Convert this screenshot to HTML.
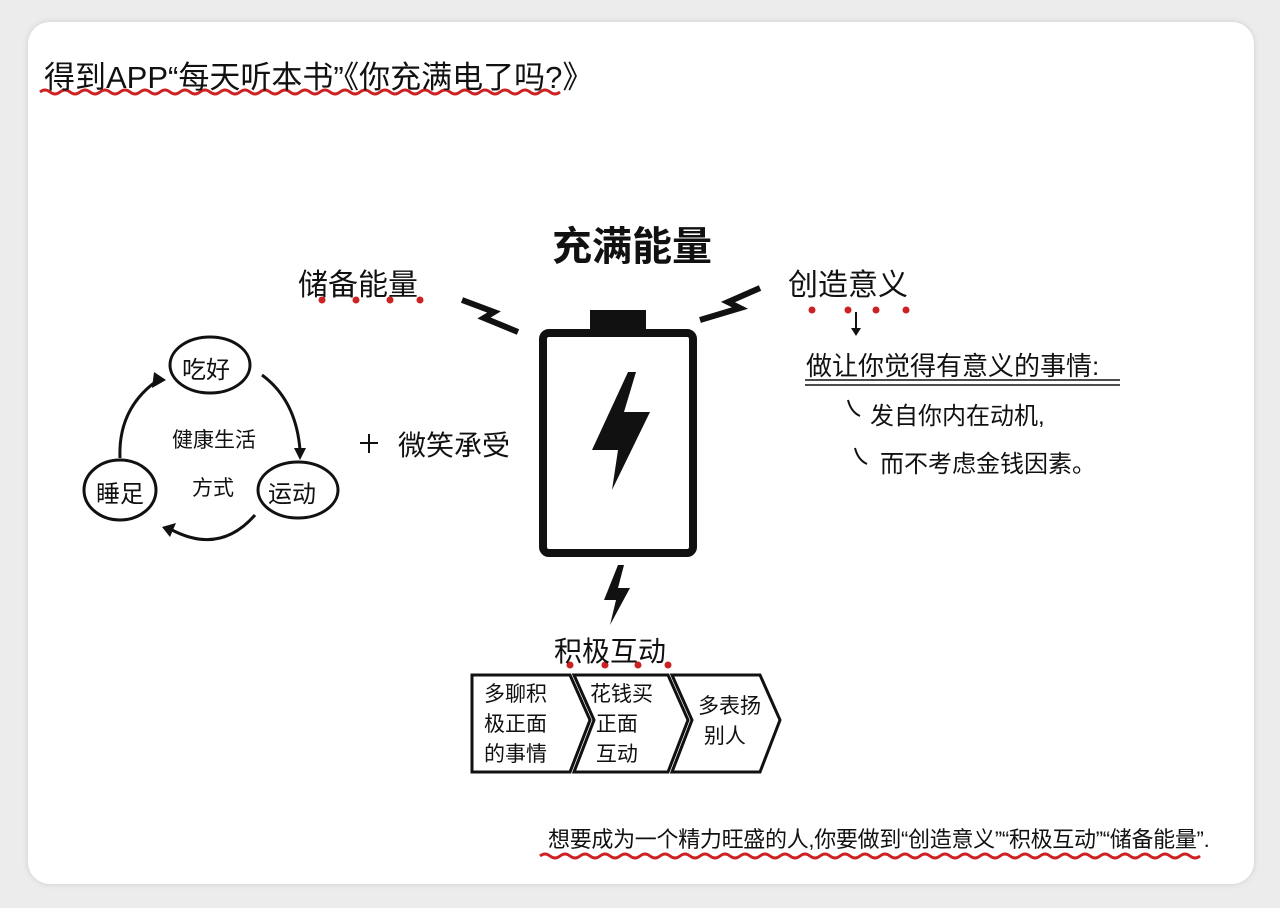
<!DOCTYPE html>
<html><head><meta charset="utf-8"><style>
body{margin:0;width:1280px;height:908px;background:#ececec;overflow:hidden;font-family:"Liberation Sans","Noto Sans CJK SC",sans-serif;}
.card{position:absolute;left:28px;top:22px;width:1226px;height:862px;background:#fff;border-radius:22px;box-shadow:0 0 6px #ccc;}
.t{position:absolute;color:#111;white-space:nowrap;}
</style></head><body>
<div class="card"></div>
<svg width="1280" height="908" style="position:absolute;left:0;top:0">
<path d="M40 92 q5 -4 10 0 t10 0 t10 0 t10 0 t10 0 t10 0 t10 0 t10 0 t10 0 t10 0 t10 0 t10 0 t10 0 t10 0 t10 0 t10 0 t10 0 t10 0 t10 0 t10 0 t10 0 t10 0 t10 0 t10 0 t10 0 t10 0 t10 0 t10 0 t10 0 t10 0 t10 0 t10 0 t10 0 t10 0 t10 0 t10 0 t10 0 t10 0 t10 0 t10 0 t10 0 t10 0 t10 0 t10 0 t10 0 t10 0 t10 0 t10 0 t10 0 t10 0 t10 0 t10 0" stroke="#c22" stroke-width="3" fill="none"/>
<path d="M540 856 q5 -4 10 0 t10 0 t10 0 t10 0 t10 0 t10 0 t10 0 t10 0 t10 0 t10 0 t10 0 t10 0 t10 0 t10 0 t10 0 t10 0 t10 0 t10 0 t10 0 t10 0 t10 0 t10 0 t10 0 t10 0 t10 0 t10 0 t10 0 t10 0 t10 0 t10 0 t10 0 t10 0 t10 0 t10 0 t10 0 t10 0 t10 0 t10 0 t10 0 t10 0 t10 0 t10 0 t10 0 t10 0 t10 0 t10 0 t10 0 t10 0 t10 0 t10 0 t10 0 t10 0 t10 0 t10 0 t10 0 t10 0 t10 0 t10 0 t10 0 t10 0 t10 0 t10 0 t10 0 t10 0 t10 0 t10 0" stroke="#c22" stroke-width="3" fill="none"/>
<rect x="543" y="333" width="150" height="220" rx="6" fill="none" stroke="#111" stroke-width="8"/>
<rect x="590" y="310" width="56" height="24" fill="#111"/>
<polygon points="628,372 592,450 618,450 612,490 650,412 624,412 636,372" fill="#111"/>
<polyline points="462,300 494,312 484,318 518,332" stroke="#111" stroke-width="6" fill="none" stroke-linejoin="miter"/>
<polyline points="760,288 728,302 740,308 700,320" stroke="#111" stroke-width="6" fill="none" stroke-linejoin="miter"/>
<polygon points="618,565 604,600 616,600 610,625 630,588 618,588 624,565" fill="#111"/>
<g fill="#c22"><circle cx="322" cy="300" r="3.5"/><circle cx="356" cy="300" r="3.5"/><circle cx="390" cy="300" r="3.5"/><circle cx="420" cy="300" r="3.5"/>
<circle cx="812" cy="310" r="3.5"/><circle cx="848" cy="310" r="3.5"/><circle cx="876" cy="310" r="3.5"/><circle cx="906" cy="310" r="3.5"/>
<circle cx="570" cy="665" r="3.5"/><circle cx="605" cy="665" r="3.5"/><circle cx="638" cy="665" r="3.5"/><circle cx="668" cy="665" r="3.5"/></g>
<path d="M856 312 L856 332" stroke="#111" stroke-width="2"/><polygon points="851,328 861,328 856,336" fill="#111"/>
<path d="M805 380 L1120 380 M805 385 L1120 385" stroke="#111" stroke-width="1.5"/>
<path d="M848 400 q3 12 12 16 M855 448 q3 12 12 16" stroke="#111" stroke-width="2" fill="none"/>
<g stroke="#111" stroke-width="3" fill="none">
<ellipse cx="210" cy="365" rx="40" ry="28"/>
<ellipse cx="120" cy="490" rx="36" ry="30"/>
<ellipse cx="298" cy="490" rx="40" ry="28"/>
<path d="M262 375 Q296 400 300 450"/>
<path d="M255 515 Q220 555 172 530"/>
<path d="M120 458 Q118 408 158 380"/>
</g>
<polygon points="294,448 306,448 300,460" fill="#111"/>
<polygon points="176,523 170,537 162,527" fill="#111"/>
<polygon points="154,372 166,380 152,388" fill="#111"/>
<path d="M360 443 L378 443 M369 434 L369 453" stroke="#111" stroke-width="2"/>
<g stroke="#111" stroke-width="3" fill="none">
<polygon points="472,675 570,675 590,720 570,772 472,772"/>
<polygon points="574,675 668,675 688,720 668,772 574,772 594,720"/>
<polygon points="672,675 760,675 780,720 760,772 672,772 692,720"/>
</g>
</svg>
<div class="t" style="left:44px;top:52px;font-size:31px">得到APP“每天听本书”《你充满电了吗?》</div>
<div class="t" style="left:552px;top:214px;font-size:40px;font-weight:bold">充满能量</div>
<div class="t" style="left:298px;top:260px;font-size:30px">储备能量</div>
<div class="t" style="left:788px;top:260px;font-size:30px">创造意义</div>
<div class="t" style="left:806px;top:346px;font-size:26px">做让你觉得有意义的事情:</div>
<div class="t" style="left:870px;top:396px;font-size:24px">发自你内在动机,</div>
<div class="t" style="left:880px;top:444px;font-size:24px">而不考虑金钱因素。</div>
<div class="t" style="left:182px;top:350px;font-size:24px">吃好</div>
<div class="t" style="left:96px;top:474px;font-size:24px">睡足</div>
<div class="t" style="left:268px;top:474px;font-size:24px">运动</div>
<div class="t" style="left:172px;top:424px;font-size:21px">健康生活</div>
<div class="t" style="left:192px;top:472px;font-size:21px">方式</div>
<div class="t" style="left:398px;top:424px;font-size:28px">微笑承受</div>
<div class="t" style="left:554px;top:630px;font-size:28px">积极互动</div>
<div class="t" style="left:484px;top:680px;font-size:21px;line-height:30px">多聊积<br>极正面<br>的事情</div>
<div class="t" style="left:590px;top:680px;font-size:21px;line-height:30px">花钱买<br>&nbsp;正面<br>&nbsp;互动</div>
<div class="t" style="left:698px;top:692px;font-size:21px;line-height:30px">多表扬<br>&nbsp;别人</div>
<div class="t" style="left:548px;top:822px;font-size:22px;letter-spacing:-0.3px">想要成为一个精力旺盛的人,你要做到“创造意义”“积极互动”“储备能量”.</div>
</body></html>
